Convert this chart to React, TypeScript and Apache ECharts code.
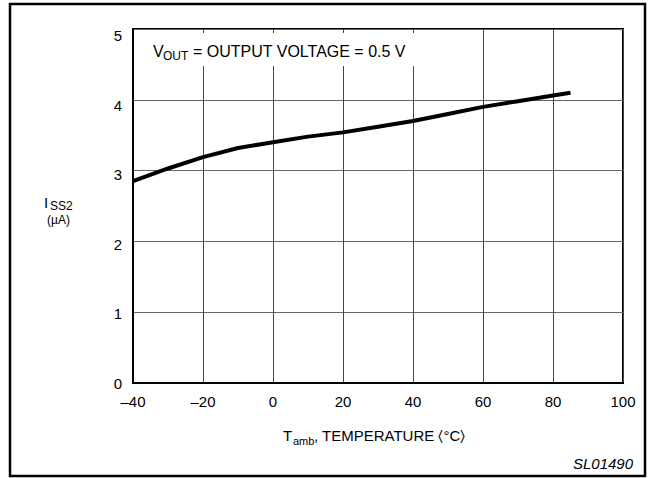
import React, { useEffect, useRef } from "react";
import * as echarts from "echarts";

const temperatures = [-40, -30, -20, -10, 0, 10, 20, 30, 40, 50, 60, 70, 80, 85];
const issValues = [2.85, 3.03, 3.19, 3.32, 3.4, 3.48, 3.54, 3.62, 3.7, 3.8, 3.9, 3.98, 4.06, 4.1];
const xTicks = { min: -40, max: 100, interval: 20 };
const yTicks = { min: 0, max: 5, interval: 1 };

const FONT = "Liberation Sans, Arial, Helvetica, sans-serif";

export default function App() {
  const ref = useRef<HTMLDivElement>(null);
  useEffect(() => {
    if (!ref.current) return;
    const chart = echarts.init(ref.current, undefined, { renderer: "svg" });
    const data = temperatures.map((t, i) => [t, issValues[i]]);
    const txt = (x: number, y: number, text: string, size: number, extra: any = {}) => ({
      type: "text",
      x,
      y,
      silent: true,
      style: {
        text,
        fill: "#000",
        font: `${extra.italic ? "italic " : ""}${size}px ${FONT}`,
        fontSize: size,
        fontFamily: FONT,
        fontStyle: extra.italic ? "italic" : "normal",
        textAlign: extra.align || "left",
        textVerticalAlign: "middle",
        verticalAlign: "middle",
      },
      z: 100,
    });
    chart.setOption({
      animation: false,
      backgroundColor: "#fff",
      grid: {
        left: 133,
        top: 29,
        right: 31,
        bottom: 95,
        show: true,
        borderColor: "#000",
        borderWidth: 2,
        backgroundColor: "transparent",
      },
      xAxis: {
        type: "value",
        min: xTicks.min,
        max: xTicks.max,
        interval: xTicks.interval,
        axisLine: { show: true, onZero: false, lineStyle: { color: "#000", width: 2 } },
        axisTick: { show: false },
        splitLine: { show: true, lineStyle: { color: "#444", width: 1 } },
        axisLabel: {
          margin: 11,
          color: "#000",
          fontSize: 15,
          fontFamily: FONT,
          formatter: (v: number) => (v < 0 ? "\u2013" + Math.abs(v) : String(v)),
        },
      },
      yAxis: [
        {
          type: "value",
          min: yTicks.min,
          max: yTicks.max,
          interval: yTicks.interval,
          axisLine: { show: true, onZero: false, lineStyle: { color: "#000", width: 2 } },
          axisTick: { show: false },
          axisLabel: { show: false },
          splitLine: { show: true, lineStyle: { color: "#666", width: 1 } },
        },
        {
          type: "value",
          position: "left",
          min: 0,
          max: 354 / 69.5,
          interval: 1,
          axisLine: { show: false, onZero: false },
          axisTick: { show: false },
          splitLine: { show: false },
          axisLabel: {
            margin: 11,
            color: "#000",
            fontSize: 15,
            fontFamily: FONT,
            showMaxLabel: false,
            formatter: (v: number) => (Math.abs(v - Math.round(v)) < 1e-6 && v <= 5 ? String(Math.round(v)) : ""),
          },
        },
      ],
      series: [
        {
          type: "line",
          data,
          yAxisIndex: 0,
          showSymbol: false,
          symbol: "none",
          lineStyle: { color: "#000", width: 4 },
          z: 5,
        },
      ],
      graphic: [
        {
          type: "rect",
          shape: { x: 10, y: 4, width: 635, height: 472 },
          style: { fill: "none", stroke: "#000", lineWidth: 2.5 },
          silent: true,
          z: 100,
        },
        {
          type: "rect",
          shape: { x: 146, y: 33, width: 268, height: 33 },
          style: { fill: "#fff", stroke: "none" },
          silent: true,
          z: 90,
        },
        txt(153, 51.5, "V", 16),
        txt(163, 55.8, "OUT", 12),
        txt(193, 51.5, "= OUTPUT VOLTAGE = 0.5 V", 16),
        txt(44, 202, "I", 15),
        txt(50, 206, "SS2", 12),
        txt(47, 220, "(\u00b5A)", 12),
        txt(283, 435.8, "T", 15),
        txt(293, 441, "amb", 11),
        txt(314, 435.8, ", TEMPERATURE \u2329\u00b0C\u232a", 15),
        txt(633, 463.8, "SL01490", 15, { italic: true, align: "right" }),
      ],
    });
    return () => chart.dispose();
  }, []);
  return (
    <div
      ref={ref}
      style={{ position: "fixed", left: 0, top: 0, width: 654, height: 478, background: "#fff" }}
    />
  );
}
